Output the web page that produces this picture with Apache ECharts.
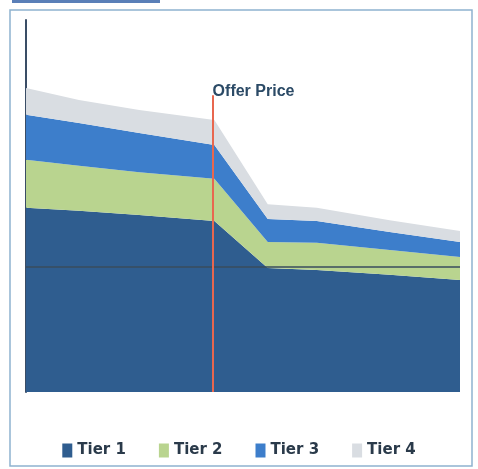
<!DOCTYPE html>
<html>
<head>
<meta charset="utf-8">
<script src="https://cdn.jsdelivr.net/npm/echarts@6/dist/echarts.min.js"></script>
<style>html,body{margin:0;padding:0;background:#fff}#c{width:478px;height:469px}</style>
</head>
<body>
<div id="c"></div>
<script>
const xs = [0, 12.2, 26.1, 43.4, 55.7, 67, 83.8, 100];
const tier1 = [49.5, 48.7, 47.6, 46.0, 33.3, 32.8, 31.5, 30.1];
const tier2 = [12.9, 12.1, 11.5, 11.3, 7.0, 7.3, 6.7, 6.2];
const tier3 = [12.1, 11.5, 10.5, 9.1, 6.2, 5.9, 4.8, 4.0];
const tier4 = [7.2, 6.2, 6.2, 6.7, 4.0, 3.5, 3.2, 3.0];
const seriesNames = ['Tier 1', 'Tier 2', 'Tier 3', 'Tier 4'];
const offerPriceX = 43.0;
const offerPriceTop = 79.8;
const offerLabel = 'Offer Price';
const refLineY = 33.6;

const colors = ['#2f5d8f', '#b9d48f', '#3d7ecb', '#d9dde2'];
const chart = echarts.init(document.getElementById('c'));
const all = [tier1, tier2, tier3, tier4];
const series = all.map((arr, i) => ({
  name: seriesNames[i],
  type: 'line',
  stack: 'total',
  symbol: 'none',
  smooth: false,
  lineStyle: { width: 0 },
  areaStyle: { color: colors[i], opacity: 1 },
  itemStyle: { color: colors[i] },
  encode: { x: 1, y: 0 },
  data: xs.map((x, j) => [arr[j], x])
}));
series[0].markLine = {
  silent: true, symbol: 'none', label: { show: false },
  lineStyle: { color: '#3a4d5c', width: 1.5, type: 'solid' },
  data: [{ yAxis: refLineY }]
};
series.push({
  name: 'offer', type: 'line', data: [], symbol: 'none',
  markLine: {
    silent: true, symbol: 'none',
    lineStyle: { color: '#e8674f', width: 2, type: 'solid' },
    label: { show: false },
    data: [[{ coord: [offerPriceX, 0] }, { coord: [offerPriceX, offerPriceTop] }]]
  },
  markPoint: {
    symbol: 'circle', symbolSize: 0,
    label: { show: true, position: 'right', formatter: offerLabel, color: '#2b4a66', fontSize: 16, fontWeight: 'bold', fontFamily: 'Liberation Sans', offset: [-5, -4] },
    data: [{ coord: [offerPriceX, offerPriceTop] }]
  }
});
chart.setOption({
  animation: false,
  backgroundColor: '#fff',
  grid: { left: 26, right: 18, top: 20, bottom: 77 },
  xAxis: { type: 'value', min: 0, max: 100, show: true, axisLine: { show: false }, axisTick: { show: false }, axisLabel: { show: false }, splitLine: { show: false } },
  yAxis: { type: 'value', min: 0, max: 100, axisLine: { show: true, lineStyle: { color: '#3a4d66', width: 2 } }, axisTick: { show: false }, axisLabel: { show: false }, splitLine: { show: false } },
  legend: {
    data: seriesNames, bottom: 6, left: 'center', itemWidth: 10, itemHeight: 14, itemGap: 33, icon: 'rect',
    textStyle: { color: '#2a3a4a', fontSize: 15, fontWeight: 'bold', fontFamily: 'DejaVu Sans' }
  },
  graphic: [
    { type: 'rect', shape: { x: 10, y: 10, width: 462, height: 456 }, style: { fill: 'none', stroke: '#8fb3cf', lineWidth: 1.5 }, silent: true },
    { type: 'rect', shape: { x: 12, y: 0, width: 148, height: 3 }, style: { fill: '#5a7fb8' }, silent: true }
  ],
  series: series
});
</script>
</body>
</html>
